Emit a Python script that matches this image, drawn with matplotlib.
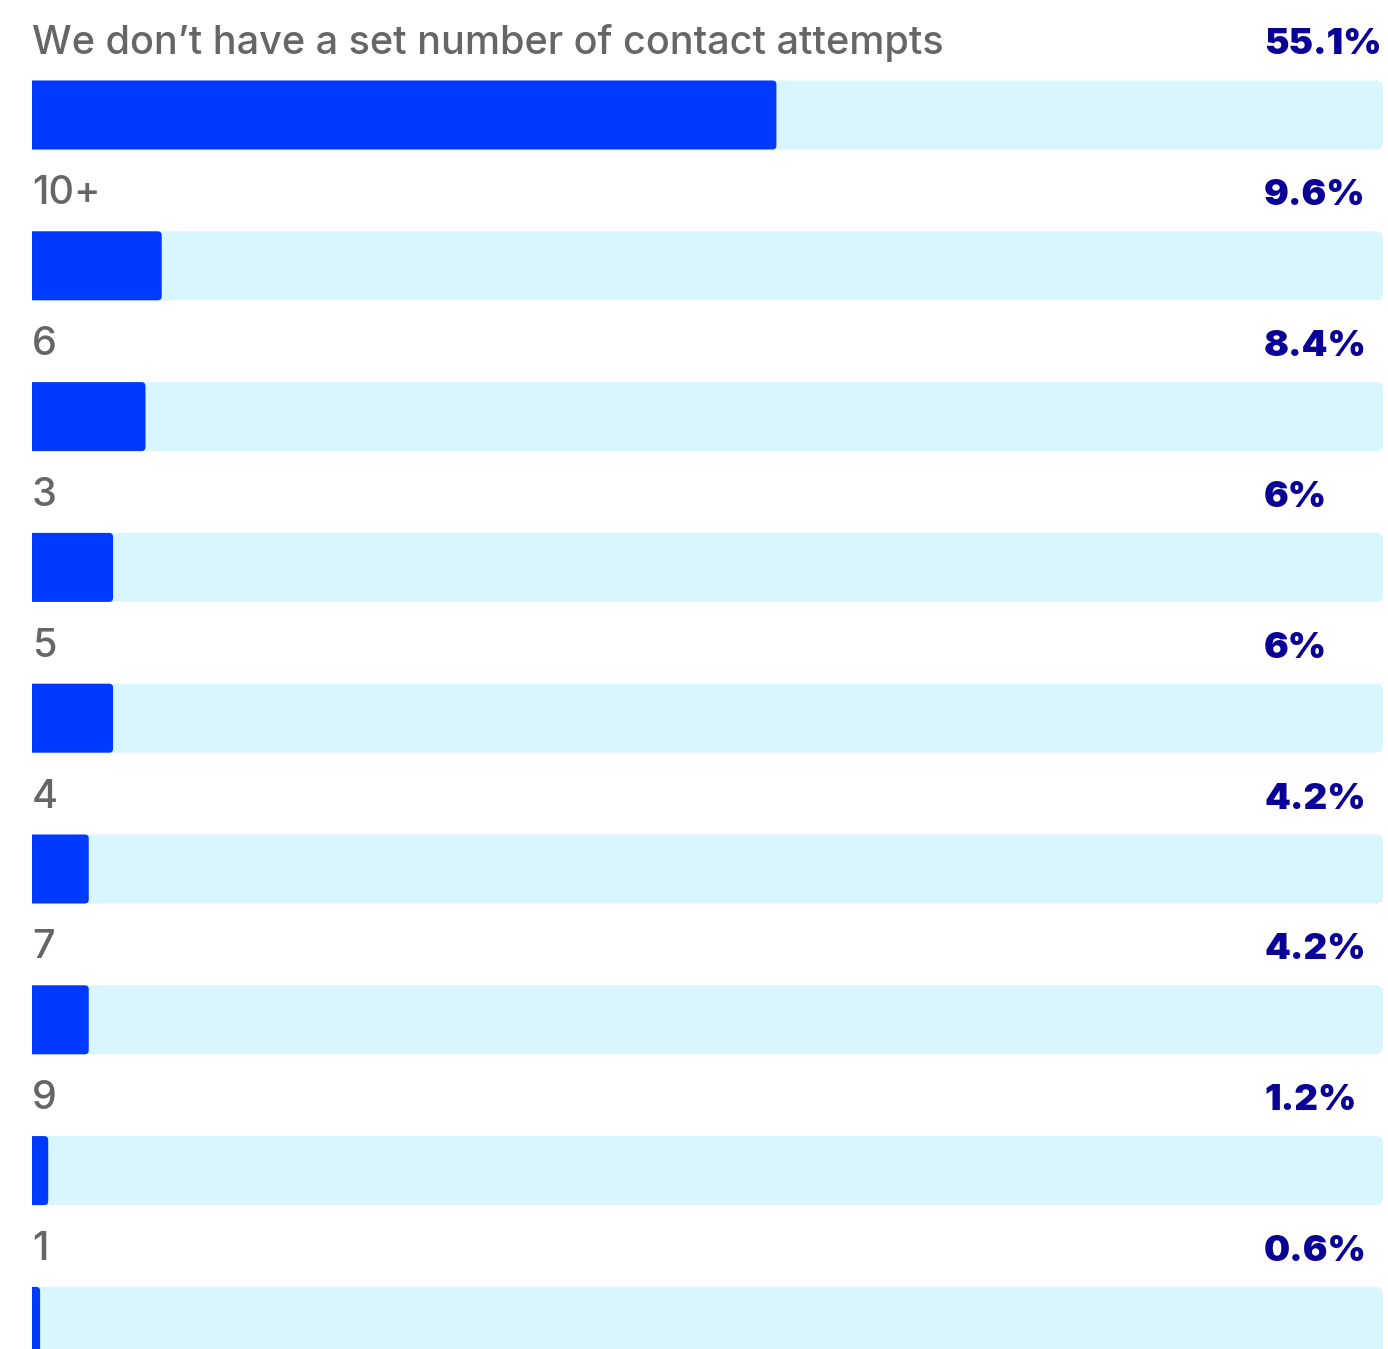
import matplotlib.pyplot as plt
from matplotlib.patches import FancyBboxPatch

# Survey answers, in the order they are shown
answers = ["We don\u2019t have a set number of contact attempts",
           "10+", "6", "3", "5", "4", "7", "9", "1"]
shares = [55.1, 9.6, 8.4, 6, 6, 4.2, 4.2, 1.2, 0.6]
share_labels = ["55.1%", "9.6%", "8.4%", "6%", "6%", "4.2%", "4.2%", "1.2%", "0.6%"]

BAR = "#0039ff"
TRACK = "#d9f6fe"
LABEL = "#666666"
VALUE = "#0a0096"

W, H = 1388, 1349
fig = plt.figure(figsize=(W / 100, H / 100), dpi=100)
ax = fig.add_axes([32 / W, 0, 1351 / W, 1])
ax.set_xlim(0, 100)
# one row = ~150 px, row 0 centred ~116 px from the top
pitch = 150.8
y0 = 115.0
ax.set_ylim((H - y0) / pitch, -y0 / pitch)
ax.axis("off")

bar_h = 69 / pitch
px_x = 100 / 1351          # one pixel in x data units
aspect = (1 / pitch) / px_x  # y units per x unit, pixel for pixel


def rounded(width, radius, color):
    # starts left of the axes so only the right end shows rounded corners
    return FancyBboxPatch((-10, top), width + 10, bar_h,
                          boxstyle="round,pad=0,rounding_size=%f" % (radius * px_x),
                          mutation_aspect=aspect, fc=color, ec="none")


for i, (name, val, lab) in enumerate(zip(answers, shares, share_labels)):
    top = i - bar_h / 2
    ax.add_patch(rounded(100, 7, TRACK))
    ax.add_patch(rounded(val, 4, BAR))

    ax.text(0, top - 27 / pitch, name, fontsize=28.5, color=LABEL,
            family=["Inter", "DejaVu Sans"], fontweight="medium",
            ha="left", va="baseline")
    ax.text(91.2, top - 26 / pitch, lab, fontsize=26.5, color=VALUE,
            family=["Inter", "DejaVu Sans"], fontweight=900,
            ha="left", va="baseline")

fig.savefig("out.png", dpi=100)
